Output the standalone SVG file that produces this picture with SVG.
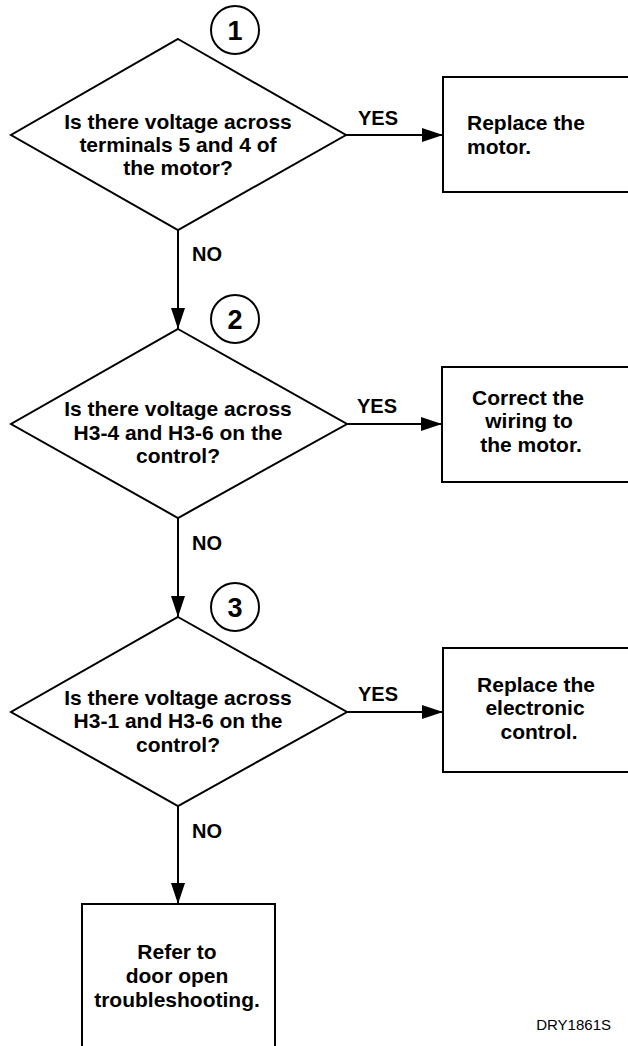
<svg xmlns="http://www.w3.org/2000/svg" width="628" height="1046" viewBox="0 0 628 1046">
<style>
.shape{fill:#fff;stroke:#000;stroke-width:2}
.ring{fill:none;stroke:#000;stroke-width:2}
.conn{stroke:#000;stroke-width:2;fill:none}
.t{font-family:"Liberation Sans",Arial,sans-serif;font-weight:bold;font-size:21px;fill:#000}
.m{text-anchor:middle}
.lbl{font-family:"Liberation Sans",Arial,sans-serif;font-weight:bold;font-size:20px;fill:#000}
.num{font-family:"Liberation Sans",Arial,sans-serif;font-weight:bold;font-size:27px;fill:#000;text-anchor:middle}
.code{font-family:"Liberation Sans",Arial,sans-serif;font-size:15px;fill:#000;text-anchor:end}
</style>
<defs>
<marker id="arr" markerUnits="userSpaceOnUse" markerWidth="21" markerHeight="14" refX="21" refY="7" orient="auto">
<path d="M0,0 L21,7 L0,14 Z" fill="#000"/>
</marker>
</defs>
<rect width="628" height="1046" fill="#fff"/>
<g id="connectors">
<line class="conn" x1="346" y1="135" x2="443" y2="135" marker-end="url(#arr)"/>
<line class="conn" x1="347" y1="424" x2="442" y2="424" marker-end="url(#arr)"/>
<line class="conn" x1="347" y1="712" x2="443" y2="712" marker-end="url(#arr)"/>
<line class="conn" x1="178" y1="230" x2="178" y2="329" marker-end="url(#arr)"/>
<line class="conn" x1="178" y1="518" x2="178" y2="617" marker-end="url(#arr)"/>
<line class="conn" x1="178" y1="806" x2="178" y2="904" marker-end="url(#arr)"/>
<text class="lbl" x="358" y="125">YES</text>
<text class="lbl" x="357" y="413">YES</text>
<text class="lbl" x="358" y="701">YES</text>
<text class="lbl" x="192" y="261">NO</text>
<text class="lbl" x="192" y="550">NO</text>
<text class="lbl" x="192" y="838">NO</text>
</g>
<g id="step1">
<circle class="ring" cx="235" cy="30" r="24"/>
<text class="num" x="235" y="40">1</text>
</g>
<g id="q1">
<polygon class="shape" points="178,39 346,135 178,230 11,135"/>
<text class="t m" x="178" y="129">Is there voltage across</text>
<text class="t m" x="178" y="152">terminals 5 and 4 of</text>
<text class="t m" x="178" y="175">the motor?</text>
</g>
<g id="a1">
<rect class="shape" x="443" y="77" width="195" height="115"/>
<text class="t" x="467" y="130">Replace the</text>
<text class="t" x="467" y="154">motor.</text>
</g>
<g id="step2">
<circle class="ring" cx="235" cy="319" r="24"/>
<text class="num" x="235" y="329">2</text>
</g>
<g id="q2">
<polygon class="shape" points="178,329 347,424 178,518 11,424"/>
<text class="t m" x="178" y="416">Is there voltage across</text>
<text class="t m" x="178" y="440">H3-4 and H3-6 on the</text>
<text class="t m" x="178" y="463">control?</text>
</g>
<g id="a2">
<rect class="shape" x="442" y="367" width="196" height="115"/>
<text class="t m" x="528" y="405">Correct the</text>
<text class="t m" x="529" y="428">wiring to</text>
<text class="t m" x="531" y="452">the motor.</text>
</g>
<g id="step3">
<circle class="ring" cx="235" cy="607" r="24"/>
<text class="num" x="235" y="617">3</text>
</g>
<g id="q3">
<polygon class="shape" points="178,617 347,712 178,806 11,712"/>
<text class="t m" x="178" y="705">Is there voltage across</text>
<text class="t m" x="178" y="728">H3-1 and H3-6 on the</text>
<text class="t m" x="178" y="752">control?</text>
</g>
<g id="a3">
<rect class="shape" x="443" y="648" width="195" height="124"/>
<text class="t m" x="536" y="692">Replace the</text>
<text class="t m" x="535" y="715">electronic</text>
<text class="t m" x="539" y="739">control.</text>
</g>
<g id="a4">
<rect class="shape" x="82" y="904" width="193" height="160"/>
<text class="t m" x="177" y="959">Refer to</text>
<text class="t m" x="177" y="983">door open</text>
<text class="t m" x="177" y="1007">troubleshooting.</text>
</g>
<text class="code" x="611" y="1030">DRY1861S</text>
</svg>
